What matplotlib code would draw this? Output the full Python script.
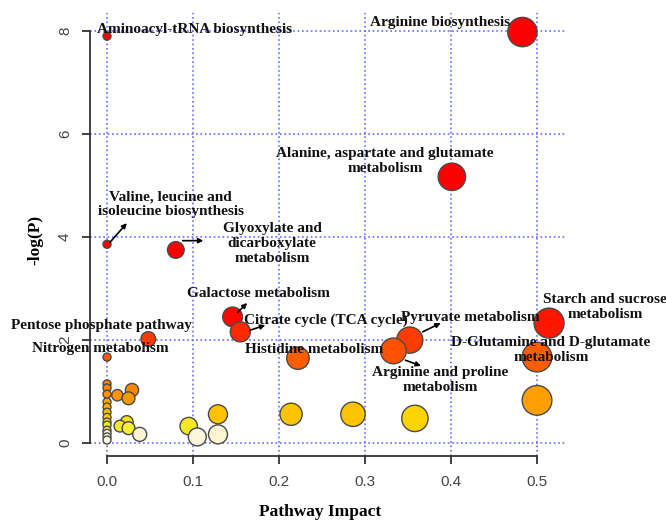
import numpy as np
import matplotlib
matplotlib.use("Agg")
import matplotlib.pyplot as plt
from matplotlib.colors import LinearSegmentedColormap

# pathway impact and -log(P), sorted by -log(P)
impact = [0.483, 0.000, 0.401, 0.000, 0.080, 0.146, 0.514, 0.155, 0.048, 0.352,
          0.333, 0.000, 0.500, 0.222, 0.000, 0.000, 0.029, 0.000, 0.012, 0.025,
          0.500, 0.000, 0.000, 0.000, 0.286, 0.214, 0.129, 0.000, 0.358, 0.023,
          0.000, 0.000, 0.015, 0.095, 0.025, 0.000, 0.000, 0.129, 0.038, 0.000,
          0.105, 0.000]
logp = [7.98, 7.90, 5.17, 3.86, 3.75, 2.45, 2.33, 2.16, 2.02, 2.00,
        1.79, 1.67, 1.67, 1.65, 1.15, 1.07, 1.03, 0.95, 0.93, 0.87,
        0.83, 0.80, 0.70, 0.60, 0.56, 0.56, 0.56, 0.50, 0.48, 0.41,
        0.41, 0.35, 0.33, 0.33, 0.29, 0.25, 0.19, 0.17, 0.17, 0.12,
        0.12, 0.06]

x_ticks = [0.0, 0.1, 0.2, 0.3, 0.4, 0.5]
x_ticklabels = ["0.0", "0.1", "0.2", "0.3", "0.4", "0.5"]
y_ticks = [0, 2, 4, 6, 8]
y_ticklabels = ["0", "2", "4", "6", "8"]

# label text, text position, horizontal alignment
labels = [
    ("Aminoacyl-tRNA biosynthesis", (-0.012, 8.02), "left"),
    ("Arginine biosynthesis", (0.387, 8.17), "center"),
    ("Alanine, aspartate and glutamate\nmetabolism", (0.323, 5.48), "center"),
    ("Valine, leucine and\nisoleucine biosynthesis", (0.074, 4.64), "center"),
    ("Glyoxylate and\ndicarboxylate\nmetabolism", (0.192, 3.88), "center"),
    ("Galactose metabolism", (0.176, 2.91), "center"),
    ("Citrate cycle (TCA cycle)", (0.254, 2.39), "center"),
    ("Pentose phosphate pathway", (-0.006, 2.29), "center"),
    ("Nitrogen metabolism", (-0.008, 1.84), "center"),
    ("Histidine metabolism", (0.241, 1.81), "center"),
    ("Pyruvate metabolism", (0.422, 2.43), "center"),
    ("Arginine and proline\nmetabolism", (0.387, 1.22), "center"),
    ("Starch and sucrose\nmetabolism", (0.579, 2.64), "center"),
    ("D-Glutamine and D-glutamate\nmetabolism", (0.516, 1.81), "center"),
]

# leader arrows (start, end)
arrows = [
    ((0.0035, 3.90), (0.023, 4.27)),
    ((0.088, 3.93), (0.112, 3.93)),
    ((0.152, 2.54), (0.163, 2.72)),
    ((0.166, 2.19), (0.184, 2.29)),
    ((0.367, 2.16), (0.388, 2.33)),
    ((0.347, 1.61), (0.365, 1.50)),
]

# colour scale along -log(P), red (high) -> yellow -> cream (low)
vmax = 2.5
nodes = [(0.00, "#fffbeb"), (0.18, "#fbf4d2"), (0.28, "#f7ec3a"), (0.40, "#f5e200"),
         (0.50, "#ffd000"), (0.60, "#ffbc00"), (0.85, "#ff9c00"), (1.10, "#ff8000"),
         (1.70, "#ff5a00"), (2.00, "#ff3c00"), (2.30, "#ff1a00"), (2.50, "#ff0000")]
cmap = LinearSegmentedColormap.from_list("heat", [(v / vmax, c) for v, c in nodes])

imp = np.array(impact)
lp = np.array(logp)
radius_px = 4 + 11 * np.sqrt(imp / imp.max())
sizes = (2 * radius_px * 0.72) ** 2

fig = plt.figure(figsize=(6.66, 5.22), dpi=100)
ax = fig.add_axes([90 / 666, 1 - 456 / 522, (566 - 90) / 666, (456 - 13) / 522])

ax.grid(True, color="#6a6aff", linestyle=":", linewidth=1.2, zorder=0)
ax.set_axisbelow(True)

ax.scatter(imp, lp, s=sizes, c=np.clip(lp, 0, vmax), cmap=cmap, vmin=0, vmax=vmax,
           edgecolors="#4a4a4a", linewidths=1.0, zorder=3, clip_on=False)

for text, pos, ha in labels:
    ax.text(pos[0], pos[1], text, ha=ha, va="center", multialignment="center",
            fontsize=11, fontweight="bold", family="Liberation Serif",
            color="#111111", zorder=4)

for start, end in arrows:
    ax.annotate("", xy=end, xytext=start,
                arrowprops=dict(arrowstyle="-|>", color="black", lw=1.2,
                                mutation_scale=7, shrinkA=0, shrinkB=0), zorder=4)

ax.set_xlim(-0.0198, 0.5337)
ax.set_ylim(-0.25, 8.35)

ax.spines["top"].set_visible(False)
ax.spines["right"].set_visible(False)
for side in ["left", "bottom"]:
    ax.spines[side].set_color("#333333")
    ax.spines[side].set_linewidth(1.3)
ax.spines["left"].set_bounds(0, 8)
ax.spines["bottom"].set_bounds(0, 0.5)

ax.set_xticks(x_ticks)
ax.set_xticklabels(x_ticklabels)
ax.set_yticks(y_ticks)
ax.set_yticklabels(y_ticklabels, rotation=90, va="center")
ax.tick_params(direction="out", length=6, width=1.3, color="#333333",
               labelsize=11, labelcolor="#444444")
ax.tick_params(axis="x", pad=8)
ax.tick_params(axis="y", pad=7)
for t in ax.get_xticklabels() + ax.get_yticklabels():
    t.set_family("Liberation Sans")

fig.text(320 / 666, 1 - 512 / 522, "Pathway Impact", ha="center", va="center",
         fontsize=12.5, fontweight="bold", family="Liberation Serif")
fig.text(35 / 666, 1 - 240 / 522, "-log(P)", ha="center", va="center", rotation=90,
         fontsize=12.5, fontweight="bold", family="Liberation Serif")

fig.savefig("out.png", dpi=100)
